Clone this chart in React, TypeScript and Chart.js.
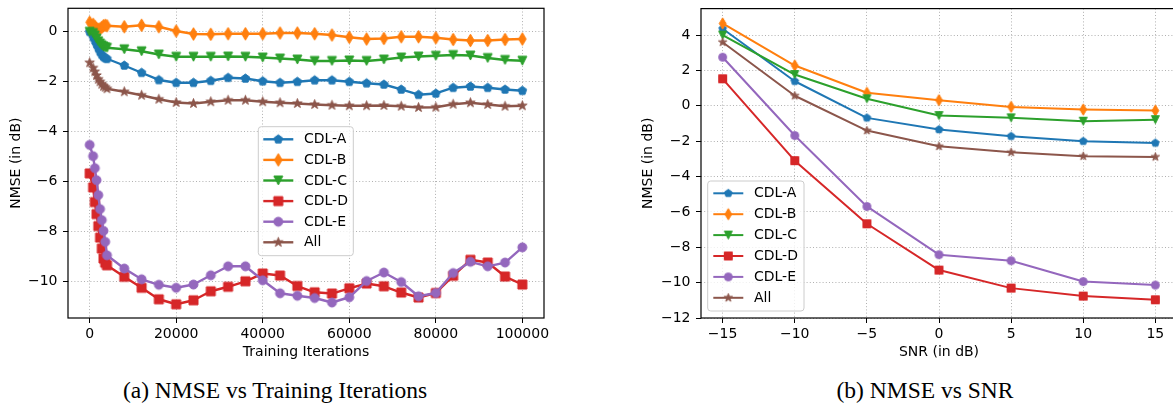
import React, { useEffect, useRef } from "react";
import { Chart, registerables } from "chart.js";

Chart.register(...registerables);

const FONT = "DejaVu Sans";

const SERIES_LABELS = ["CDL-A", "CDL-B", "CDL-C", "CDL-D", "CDL-E", "All"];
const SERIES_COLORS = ["#1f77b4", "#ff7f0e", "#2ca02c", "#d62728", "#9467bd", "#8c564b"];
const SERIES_MARKERS = ["pentagon", "thinDiamond", "triangleDown", "square", "circle", "star"];

// NMSE (dB) against training iterations
const ITERATIONS = [
  0, 800, 1200, 1600, 2000, 2400, 2800, 3200, 3600, 4000,
  8000, 12000, 16000, 20000, 24000, 28000, 32000, 36000, 40000, 44000, 48000, 52000,
  56000, 60000, 64000, 68000, 72000, 76000, 80000, 84000, 88000, 92000, 96000, 100000,
];
const ITER_CDL_A = [
  0, -0.2, -0.35, -0.5, -0.65, -0.8, -0.92, -1.0, -1.05, -1.08,
  -1.35, -1.64, -1.93, -2.04, -2.04, -1.96, -1.84, -1.87, -1.98, -2.04, -2.0, -1.94,
  -1.94, -2.0, -2.06, -2.11, -2.31, -2.52, -2.47, -2.24, -2.19, -2.24, -2.31, -2.36,
];
const ITER_CDL_B = [
  0.38, 0.3, 0.22, 0.14, 0.1, 0.12, 0.18, 0.24, 0.26, 0.24,
  0.2, 0.26, 0.2, 0.03, -0.09, -0.1, -0.08, -0.08, -0.08, -0.05, -0.05, -0.08,
  -0.13, -0.22, -0.29, -0.27, -0.2, -0.2, -0.24, -0.31, -0.35, -0.35, -0.31, -0.29,
];
const ITER_CDL_C = [
  0.0, -0.05, -0.15, -0.27, -0.38, -0.47, -0.54, -0.59, -0.62, -0.64,
  -0.7, -0.78, -0.91, -1.0, -1.0, -1.0, -0.99, -1.0, -1.03, -1.07, -1.11, -1.17,
  -1.17, -1.15, -1.17, -1.11, -1.03, -0.99, -0.96, -0.93, -0.95, -1.05, -1.13, -1.16,
];
const ITER_CDL_D = [
  -5.67, -6.23, -6.82, -7.3, -7.78, -8.24, -8.68, -9.08, -9.25, -9.35,
  -9.81, -10.25, -10.71, -10.91, -10.75, -10.39, -10.21, -9.99, -9.68, -9.76, -10.18, -10.43,
  -10.48, -10.27, -10.08, -10.19, -10.44, -10.64, -10.46, -9.77, -9.13, -9.24, -9.8, -10.12,
];
const ITER_CDL_E = [
  -4.53, -4.98, -5.46, -5.94, -6.54, -7.1, -7.54, -7.97, -8.41, -8.95,
  -9.48, -9.91, -10.13, -10.25, -10.12, -9.75, -9.39, -9.39, -9.95, -10.47, -10.57, -10.66,
  -10.84, -10.63, -9.98, -9.64, -10.02, -10.59, -10.46, -9.66, -9.21, -9.39, -9.24, -8.63,
];
const ITER_ALL = [
  -1.24, -1.45, -1.6, -1.75, -1.9, -2.0, -2.1, -2.18, -2.22, -2.28,
  -2.4, -2.54, -2.7, -2.83, -2.87, -2.8, -2.74, -2.74, -2.8, -2.84, -2.87, -2.91,
  -2.94, -2.96, -2.96, -2.95, -2.98, -3.03, -3.02, -2.9, -2.84, -2.91, -2.98, -2.96,
];

// NMSE (dB) against SNR
const SNR_DB = [-15, -10, -5, 0, 5, 10, 15];
const SNR_CDL_A = [4.36, 1.39, -0.68, -1.34, -1.72, -2.0, -2.1];
const SNR_CDL_B = [4.66, 2.28, 0.74, 0.32, -0.06, -0.21, -0.27];
const SNR_CDL_C = [4.0, 1.77, 0.4, -0.55, -0.68, -0.87, -0.78];
const SNR_CDL_D = [1.53, -3.1, -6.67, -9.29, -10.31, -10.76, -10.97];
const SNR_CDL_E = [2.75, -1.68, -5.69, -8.42, -8.76, -9.94, -10.14];
const SNR_ALL = [3.6, 0.57, -1.4, -2.29, -2.63, -2.85, -2.89];

// Axis ticks
const ITER_X_TICKS = [0, 20000, 40000, 60000, 80000, 100000];
const ITER_Y_TICKS = [-10, -8, -6, -4, -2, 0];
const SNR_X_TICKS = [-15, -10, -5, 0, 5, 10, 15];
const SNR_Y_TICKS = [-12, -10, -8, -6, -4, -2, 0, 2, 4];

const CAPTION_LEFT = "(a) NMSE vs Training Iterations";
const CAPTION_RIGHT = "(b) NMSE vs SNR";

const withMinus = (v: number) => (v < 0 ? "\u2212" + Math.abs(v) : String(v));

// Filled marker glyphs rendered to small canvases, used as point styles
function makeMarker(shape: string, color: string, s: number): HTMLCanvasElement {
  const dim = Math.ceil(s * 1.6) + 4;
  const c = document.createElement("canvas");
  c.width = dim;
  c.height = dim;
  const g = c.getContext("2d")!;
  g.translate(dim / 2, dim / 2);
  const r = s / 2;
  g.beginPath();
  if (shape === "circle") {
    g.arc(0, 0, r, 0, Math.PI * 2);
  } else if (shape === "square") {
    g.rect(-r, -r, s, s);
  } else if (shape === "thinDiamond") {
    const h = r * Math.SQRT2;
    const w = h * 0.6;
    g.moveTo(0, -h);
    g.lineTo(w, 0);
    g.lineTo(0, h);
    g.lineTo(-w, 0);
    g.closePath();
  } else if (shape === "triangleDown") {
    g.moveTo(0, r);
    g.lineTo(-r, -r);
    g.lineTo(r, -r);
    g.closePath();
  } else if (shape === "pentagon") {
    for (let k = 0; k < 5; k++) {
      const a = -Math.PI / 2 + (k * 2 * Math.PI) / 5;
      const px = r * Math.cos(a);
      const py = r * Math.sin(a);
      if (k === 0) g.moveTo(px, py);
      else g.lineTo(px, py);
    }
    g.closePath();
  } else if (shape === "star") {
    const R = r * 1.1;
    for (let k = 0; k < 10; k++) {
      const a = -Math.PI / 2 + (k * Math.PI) / 5;
      const rr = k % 2 === 0 ? R : R * 0.381966;
      const px = rr * Math.cos(a);
      const py = rr * Math.sin(a);
      if (k === 0) g.moveTo(px, py);
      else g.lineTo(px, py);
    }
    g.closePath();
  }
  g.fillStyle = color;
  g.fill();
  g.lineWidth = 1;
  g.strokeStyle = color;
  g.lineJoin = "miter";
  g.stroke();
  return c;
}

// Axes frame and boxed legend drawn over the plotted lines
const frameLegendPlugin = {
  id: "frameLegend",
  afterDatasetsDraw(chart: any, _args: any, opts: any) {
    const { ctx, chartArea } = chart;
    ctx.save();
    ctx.strokeStyle = "#000";
    ctx.lineWidth = 1.2;
    ctx.strokeRect(chartArea.left, chartArea.top, chartArea.right - chartArea.left, chartArea.bottom - chartArea.top);

    const { x, y, w, h, row0, rowGap, handleX, handleW, textX } = opts;
    const rad = 3;
    ctx.beginPath();
    ctx.moveTo(x + rad, y);
    ctx.arcTo(x + w, y, x + w, y + h, rad);
    ctx.arcTo(x + w, y + h, x, y + h, rad);
    ctx.arcTo(x, y + h, x, y, rad);
    ctx.arcTo(x, y, x + w, y, rad);
    ctx.closePath();
    ctx.fillStyle = "rgba(255,255,255,0.8)";
    ctx.fill();
    ctx.strokeStyle = "#cccccc";
    ctx.lineWidth = 1;
    ctx.stroke();

    chart.data.datasets.forEach((ds: any, i: number) => {
      const cy = row0 + i * rowGap;
      ctx.strokeStyle = ds.borderColor;
      ctx.lineWidth = ds.borderWidth;
      ctx.beginPath();
      ctx.moveTo(handleX, cy);
      ctx.lineTo(handleX + handleW, cy);
      ctx.stroke();
      const m = ds.pointStyle as HTMLCanvasElement;
      ctx.drawImage(m, handleX + handleW / 2 - m.width / 2, cy - m.height / 2);
      ctx.fillStyle = "#000";
      ctx.font = `14px "${FONT}"`;
      ctx.textBaseline = "middle";
      ctx.textAlign = "left";
      ctx.fillText(ds.label, textX, cy + 0.5);
    });
    ctx.restore();
  },
};

interface PanelSpec {
  xs: number[];
  series: number[][];
  markerSize: number;
  lineWidth: number;
  xMin: number;
  xMax: number;
  yMin: number;
  yMax: number;
  xTicks: number[];
  yTicks: number[];
  xFormat: (v: number) => string;
  xTitle: string;
  yTitle: string;
  yAxisWidth: number;
  yTitlePad: number;
  padding: { left: number; top: number; right: number; bottom: number };
  legend: any;
}

function buildConfig(p: PanelSpec): any {
  const n = p.series.length;
  const datasets = p.series.map((ys, i) => ({
    label: SERIES_LABELS[i],
    data: p.xs.map((x, j) => ({ x, y: ys[j] })),
    borderColor: SERIES_COLORS[i],
    backgroundColor: SERIES_COLORS[i],
    borderWidth: p.lineWidth,
    borderJoinStyle: "round",
    pointStyle: makeMarker(SERIES_MARKERS[i], SERIES_COLORS[i], p.markerSize),
    pointRadius: p.markerSize / 2,
    tension: 0,
    fill: false,
    order: n - i,
  }));
  const tickFont = { family: FONT, size: 14 };
  const grid = {
    color: "#b0b0b0",
    lineWidth: 1,
    drawTicks: true,
    tickLength: 5,
    tickColor: "#000",
    tickWidth: 1,
    tickBorderDash: [],
  };
  const border = { display: false, dash: [1, 2.2] };
  return {
    type: "line",
    data: { datasets },
    options: {
      responsive: false,
      animation: false,
      events: [],
      layout: { padding: p.padding },
      plugins: {
        legend: { display: false },
        tooltip: { enabled: false },
        frameLegend: p.legend,
      },
      scales: {
        x: {
          type: "linear",
          min: p.xMin,
          max: p.xMax,
          afterBuildTicks: (axis: any) => {
            axis.ticks = p.xTicks.map((v) => ({ value: v }));
          },
          afterFit: (axis: any) => {
            axis.height = 50;
            axis.paddingLeft = 0;
            axis.paddingRight = 0;
          },
          grid,
          border,
          ticks: {
            color: "#000",
            font: tickFont,
            padding: 3,
            maxRotation: 0,
            autoSkip: false,
            callback: (v: any) => p.xFormat(Number(v)),
          },
          title: {
            display: true,
            text: p.xTitle,
            color: "#000",
            font: tickFont,
            padding: { top: 0, bottom: 7 },
          },
        },
        y: {
          type: "linear",
          min: p.yMin,
          max: p.yMax,
          afterBuildTicks: (axis: any) => {
            axis.ticks = p.yTicks.map((v) => ({ value: v }));
          },
          afterFit: (axis: any) => {
            axis.width = p.yAxisWidth;
            axis.paddingTop = 0;
            axis.paddingBottom = 0;
          },
          grid,
          border,
          ticks: {
            color: "#000",
            font: tickFont,
            padding: 5.5,
            autoSkip: false,
            callback: (v: any) => withMinus(Number(v)),
          },
          title: {
            display: true,
            text: p.yTitle,
            color: "#000",
            font: tickFont,
            padding: { top: p.yTitlePad, bottom: 0 },
          },
        },
      },
    },
    plugins: [frameLegendPlugin],
  };
}

export default function App() {
  const leftRef = useRef<HTMLCanvasElement>(null);
  const rightRef = useRef<HTMLCanvasElement>(null);

  useEffect(() => {
    Chart.defaults.font.family = FONT;
    const left = new Chart(
      leftRef.current!,
      buildConfig({
        xs: ITERATIONS,
        series: [ITER_CDL_A, ITER_CDL_B, ITER_CDL_C, ITER_CDL_D, ITER_CDL_E, ITER_ALL],
        markerSize: 9,
        lineWidth: 2.4,
        xMin: -5000,
        xMax: 105000,
        yMin: -11.46,
        yMax: 0.94,
        xTicks: ITER_X_TICKS,
        yTicks: ITER_Y_TICKS,
        xFormat: (v) => String(v),
        xTitle: "Training Iterations",
        yTitle: "NMSE (in dB)",
        yAxisWidth: 68,
        yTitlePad: 7.6,
        padding: { left: 0, top: 8.3, right: 56, bottom: 0 },
        legend: { x: 258.3, y: 126.7, w: 95, h: 129, row0: 139.3, rowGap: 20.6, handleX: 263.3, handleW: 30, textX: 304 },
      })
    );
    const right = new Chart(
      rightRef.current!,
      buildConfig({
        xs: SNR_DB,
        series: [SNR_CDL_A, SNR_CDL_B, SNR_CDL_C, SNR_CDL_D, SNR_CDL_E, SNR_ALL],
        markerSize: 8,
        lineWidth: 2,
        xMin: -16.5,
        xMax: 16.5,
        yMin: -12,
        yMax: 5.5,
        xTicks: SNR_X_TICKS,
        yTicks: SNR_Y_TICKS,
        xFormat: withMinus,
        xTitle: "SNR (in dB)",
        yTitle: "NMSE (in dB)",
        yAxisWidth: 71,
        yTitlePad: 9.6,
        padding: { left: 0, top: 8.6, right: 40, bottom: 0 },
        legend: { x: 77.7, y: 181, w: 96.3, h: 130, row0: 193.3, rowGap: 20.9, handleX: 83.3, handleW: 30, textX: 124 },
      })
    );
    return () => {
      left.destroy();
      right.destroy();
    };
  }, []);

  const captionStyle = (center: number): React.CSSProperties => ({
    position: "absolute",
    left: center - 250,
    width: 500,
    top: 377,
    textAlign: "center",
    fontFamily: '"Liberation Serif", "Times New Roman", serif',
    fontSize: 23.5,
    lineHeight: "26px",
    color: "#000",
    whiteSpace: "nowrap",
  });

  return (
    <div
      style={{
        position: "absolute",
        left: 0,
        top: 0,
        width: 1173,
        height: 404,
        overflow: "hidden",
        background: "#fff",
      }}
    >
      <canvas
        ref={leftRef}
        width={600}
        height={368}
        style={{ position: "absolute", left: 0, top: 0, width: 600, height: 368 }}
      />
      <canvas
        ref={rightRef}
        width={587}
        height={368}
        style={{ position: "absolute", left: 630, top: 0, width: 587, height: 368 }}
      />
      <div style={captionStyle(275)}>{CAPTION_LEFT}</div>
      <div style={captionStyle(925)}>{CAPTION_RIGHT}</div>
    </div>
  );
}
